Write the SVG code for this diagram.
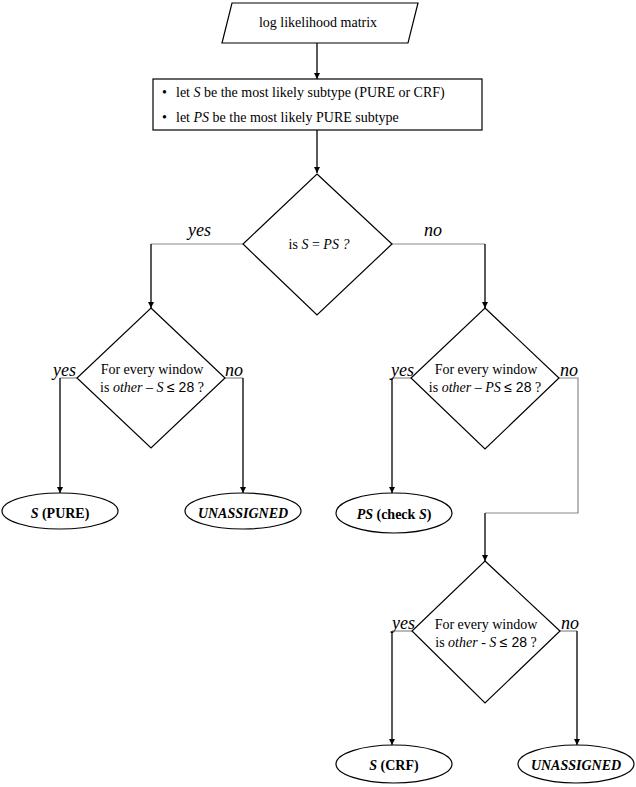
<svg xmlns="http://www.w3.org/2000/svg" width="636" height="787" viewBox="0 0 636 787">
<style>
text{font-family:"Liberation Serif","Times New Roman",serif;fill:#000}
.t{font-size:14px}
.c{text-anchor:middle}
.lab{font-size:18px;font-style:italic}
.i{font-style:italic}
.b{font-weight:bold}
.sans{font-family:"Liberation Sans",Arial,sans-serif}
.shape{fill:#fff;stroke:#000;stroke-width:1.2}
.v{stroke:#000;stroke-width:1.3;fill:none}
.h{stroke:#8a8a8a;stroke-width:1.2;fill:none}
</style>
<defs>
<marker id="ah" viewBox="0 0 10 10" refX="10" refY="5" markerWidth="6" markerHeight="7" markerUnits="userSpaceOnUse" orient="auto">
<path d="M0,0 L10,5 L0,10 z" fill="#000"/>
</marker>
</defs>
<rect width="636" height="787" fill="#fff"/>
<g id="connectors">
<line class="v" x1="317" y1="43" x2="317" y2="79" marker-end="url(#ah)"/>
<line class="v" x1="317" y1="130" x2="317" y2="173" marker-end="url(#ah)"/>
<line class="h" x1="243" y1="244" x2="151" y2="244"/>
<line class="v" x1="151" y1="244" x2="151" y2="308" marker-end="url(#ah)"/>
<line class="h" x1="392" y1="244" x2="485" y2="244"/>
<line class="v" x1="485" y1="244" x2="485" y2="308" marker-end="url(#ah)"/>
<line class="h" x1="77" y1="378" x2="60" y2="378"/>
<line class="v" x1="60" y1="378" x2="60" y2="493" marker-end="url(#ah)"/>
<line class="h" x1="225" y1="378" x2="243" y2="378"/>
<line class="v" x1="243" y1="378" x2="243" y2="493" marker-end="url(#ah)"/>
<line class="h" x1="411" y1="378" x2="392" y2="378"/>
<line class="v" x1="392" y1="378" x2="392" y2="493" marker-end="url(#ah)"/>
<polyline class="h" points="559,378 578,378 578,513 485,513"/>
<line class="v" x1="485" y1="513" x2="485" y2="561" marker-end="url(#ah)"/>
<line class="h" x1="412" y1="631" x2="392" y2="631"/>
<line class="v" x1="392" y1="631" x2="392" y2="745" marker-end="url(#ah)"/>
<line class="h" x1="560" y1="631" x2="577" y2="631"/>
<line class="v" x1="577" y1="631" x2="577" y2="745" marker-end="url(#ah)"/>
</g>
<g id="input">
<polygon class="shape" points="232,3 418,3 408,43 222,43"/>
<text class="t c" x="318" y="27">log likelihood matrix</text>
</g>
<g id="init">
<rect class="shape" x="153" y="79" width="329" height="51"/>
<text class="t" x="162" y="97">•</text>
<text class="t" x="176" y="97">let <tspan class="i">S</tspan> be the most likely subtype (PURE or CRF)</text>
<text class="t" x="162" y="122">•</text>
<text class="t" x="176" y="122">let <tspan class="i">PS</tspan> be the most likely PURE subtype</text>
</g>
<g id="d1">
<polygon class="shape" points="317,174 392,244 317,315 243,244"/>
<text class="t c" x="319" y="249">is <tspan class="i">S</tspan> = <tspan class="i">PS ?</tspan></text>
<text class="lab" x="188" y="236">yes</text>
<text class="lab" x="424" y="236">no</text>
</g>
<g id="d2">
<polygon class="shape" points="151,308 225,378 151,448 77,378"/>
<text class="t c" x="152" y="374">For every window</text>
<text class="t c" x="152" y="392">is <tspan class="i">other</tspan> – <tspan class="i">S</tspan> <tspan class="sans">≤ 28</tspan> ?</text>
<text class="lab" x="53" y="376">yes</text>
<text class="lab" x="225" y="376">no</text>
</g>
<g id="d3">
<polygon class="shape" points="485,308 559,378 485,449 411,378"/>
<text class="t c" x="486" y="374">For every window</text>
<text class="t c" x="485" y="392">is <tspan class="i">other</tspan> – <tspan class="i">PS</tspan> <tspan class="sans">≤ 28</tspan> ?</text>
<text class="lab" x="391" y="376">yes</text>
<text class="lab" x="560" y="376">no</text>
</g>
<g id="d4">
<polygon class="shape" points="485,561 560,631 485,703 412,631"/>
<text class="t c" x="486" y="629">For every window</text>
<text class="t c" x="486" y="647">is <tspan class="i">other</tspan> - <tspan class="i">S</tspan> <tspan class="sans">≤ 28</tspan> ?</text>
<text class="lab" x="392" y="629">yes</text>
<text class="lab" x="561" y="629">no</text>
</g>
<g id="e1">
<ellipse class="shape" cx="60" cy="511" rx="58" ry="18"/>
<text class="t c b" x="60" y="518"><tspan class="i">S</tspan> (PURE)</text>
</g>
<g id="e2">
<ellipse class="shape" cx="243" cy="511" rx="58" ry="18"/>
<text class="t c b i" x="243" y="518">UNASSIGNED</text>
</g>
<g id="e3">
<ellipse class="shape" cx="394" cy="513" rx="58" ry="20"/>
<text class="t c b" x="394" y="519"><tspan class="i">PS</tspan> (check <tspan class="i">S</tspan>)</text>
</g>
<g id="e4">
<ellipse class="shape" cx="394" cy="764" rx="58" ry="19"/>
<text class="t c b" x="394" y="770"><tspan class="i">S</tspan> (CRF)</text>
</g>
<g id="e5">
<ellipse class="shape" cx="576" cy="764" rx="58" ry="19"/>
<text class="t c b i" x="576" y="770">UNASSIGNED</text>
</g>
</svg>
